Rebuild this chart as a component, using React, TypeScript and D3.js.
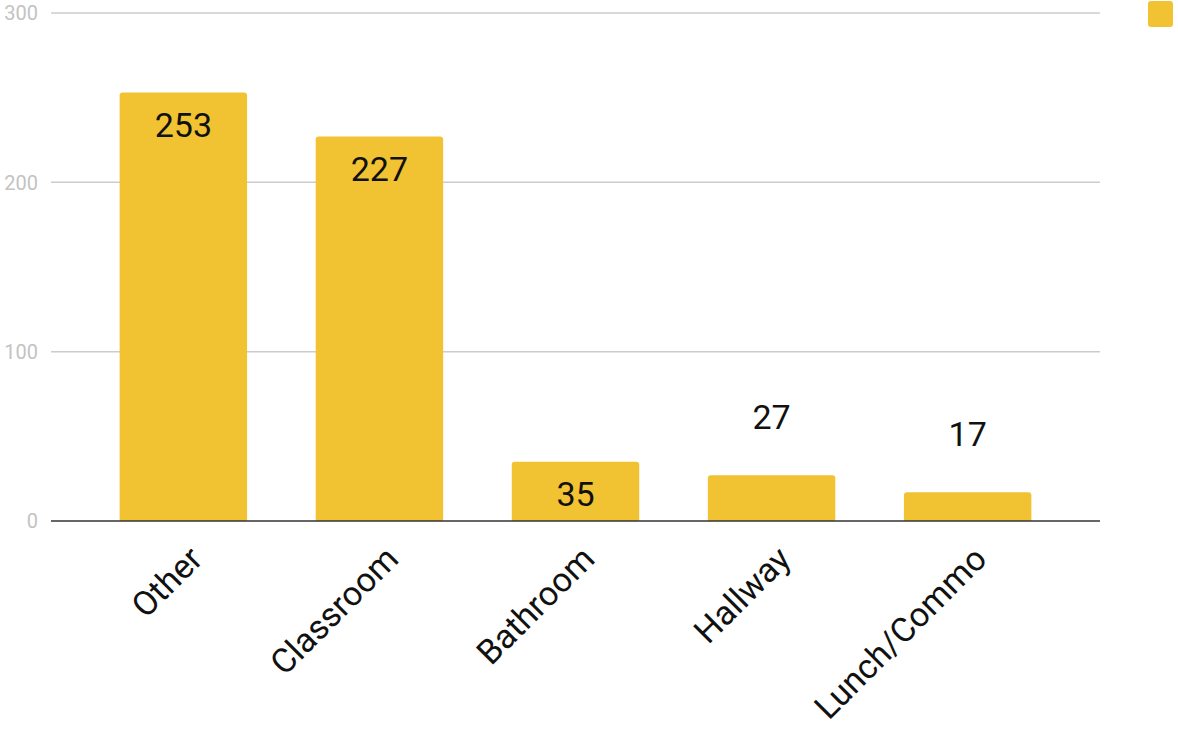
import React from "react";
import * as d3 from "d3";

const categories = ["Other", "Classroom", "Bathroom", "Hallway", "Lunch/Commo"];
const values = [253, 227, 35, 27, 17];
const yTicks = [0, 100, 200, 300];

const W = 1178;
const H = 729;
const left = 51;
const right = 1100;
const top = 13;
const bottom = 521;

export default function App() {
  const x = d3.scaleBand<string>().domain(categories).range([left, right]).padding(0.35);
  const y = d3.scaleLinear().domain([0, 300]).range([bottom, top]);
  const font = "Roboto, 'Noto Sans', Arial, sans-serif";
  return (
    <svg width={W} height={H} style={{ position: "absolute", left: 0, top: 0, background: "#fff" }} fontFamily={font}>
      {yTicks.map((t) => (
        <g key={t}>
          {t !== 0 && <line x1={left} x2={right} y1={y(t)} y2={y(t)} stroke="#cccccc" strokeWidth={1.5} />}
          <text x={38} y={y(t)} dy="0.36em" textAnchor="end" fontSize={20} fill="#c3c3c3">{t}</text>
        </g>
      ))}
      {categories.map((c, i) => {
        const v = values[i];
        const bx = x(c)!;
        const by = y(v);
        const h = bottom - by;
        const inside = h > 50;
        const cx = bx + x.bandwidth() / 2;
        const bw = x.bandwidth();
        return (
          <g key={c}>
            <path
              d={`M${bx},${bottom} L${bx},${by + 3} Q${bx},${by} ${bx + 3},${by} L${bx + bw - 3},${by} Q${bx + bw},${by} ${bx + bw},${by + 3} L${bx + bw},${bottom} Z`}
              fill="#F1C232"
            />
            <text x={cx} y={inside ? by + 44 : by - 46} textAnchor="middle" fontSize={34} fill="#111">{v}</text>
            <text
              transform={`translate(${cx + 21},${561}) rotate(-45)`}
              textAnchor="end"
              fontSize={34}
              fill="#111"
            >{c}</text>
          </g>
        );
      })}
      <line x1={left} x2={right} y1={bottom} y2={bottom} stroke="#333" strokeWidth={1.5} />
      <rect x={1148} y={1} width={25} height={26} rx={3} fill="#F1C232" />
    </svg>
  );
}
